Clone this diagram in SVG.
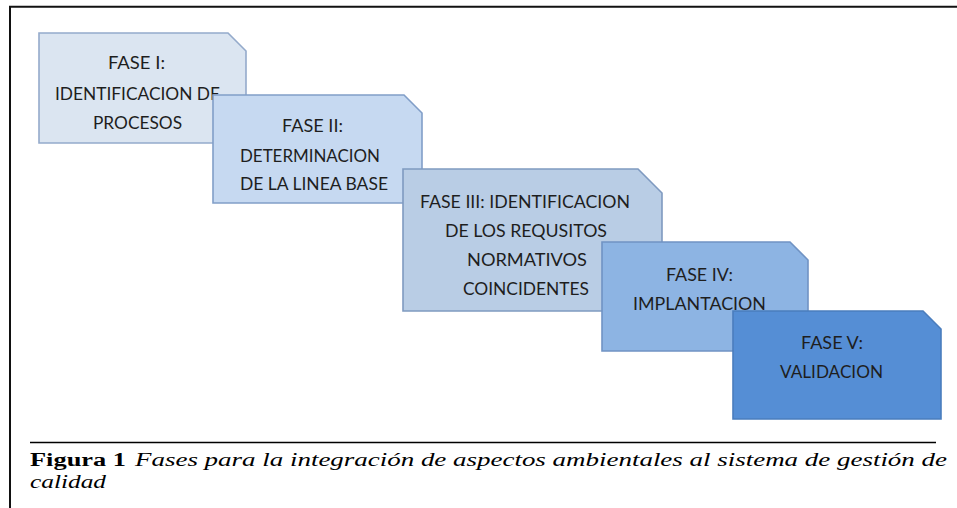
<svg xmlns="http://www.w3.org/2000/svg" width="957" height="508" viewBox="0 0 957 508">
<style>
.box{stroke-width:1.6;stroke-linejoin:miter}
.t{font-family:Lato,"Liberation Sans",sans-serif;font-size:17px;fill:#1e1e1e;text-anchor:middle}
.cap{font-family:"Liberation Serif",Tinos,"Times New Roman","Noto Serif",serif;font-size:18px;fill:#000}
</style>
<rect width="957" height="508" fill="#fff"/>
<g id="frame" stroke="#111" stroke-width="2" fill="none">
<line x1="9" y1="6.8" x2="957" y2="6.8"/>
<line x1="10" y1="6" x2="10" y2="508"/>
</g>
<g id="connectors"/>
<g id="fase1">
<path class="box" d="M39,33 H228 L246,51 V143 H39 Z" fill="#dbe5f1" stroke="#94aacb"/>
<text class="t" x="136.5" y="69" textLength="57" lengthAdjust="spacingAndGlyphs">FASE I:</text>
<text class="t" x="137.5" y="100" textLength="165" lengthAdjust="spacingAndGlyphs">IDENTIFICACION DE</text>
<text class="t" x="137.5" y="129" textLength="89" lengthAdjust="spacingAndGlyphs">PROCESOS</text>
</g>
<g id="fase2">
<path class="box" d="M213,95 H404 L422,113 V203 H213 Z" fill="#c6d9f1" stroke="#819ec8"/>
<text class="t" x="312.5" y="131.5" textLength="61" lengthAdjust="spacingAndGlyphs">FASE II:</text>
<text class="t" x="310" y="161.5" textLength="140" lengthAdjust="spacingAndGlyphs">DETERMINACION</text>
<text class="t" x="314" y="190" textLength="148" lengthAdjust="spacingAndGlyphs">DE LA LINEA BASE</text>
</g>
<g id="fase3">
<path class="box" d="M403,169 H638 L662,193 V311 H403 Z" fill="#b9cde5" stroke="#7f9ac0"/>
<text class="t" x="525" y="208" textLength="210" lengthAdjust="spacingAndGlyphs">FASE III: IDENTIFICACION</text>
<text class="t" x="526" y="237" textLength="162" lengthAdjust="spacingAndGlyphs">DE LOS REQUSITOS</text>
<text class="t" x="527" y="266" textLength="120" lengthAdjust="spacingAndGlyphs">NORMATIVOS</text>
<text class="t" x="526" y="295" textLength="126" lengthAdjust="spacingAndGlyphs">COINCIDENTES</text>
</g>
<g id="fase4">
<path class="box" d="M602,242 H790 L808,260 V351 H602 Z" fill="#8db4e3" stroke="#7093c4"/>
<text class="t" x="699.5" y="281" textLength="67" lengthAdjust="spacingAndGlyphs">FASE IV:</text>
<text class="t" x="699.5" y="310" textLength="133" lengthAdjust="spacingAndGlyphs">IMPLANTACION</text>
</g>
<g id="fase5">
<path class="box" d="M733,311 H923 L941,329 V419 H733 Z" fill="#558ed5" stroke="#4a7dbd"/>
<text class="t" x="832" y="349" textLength="62" lengthAdjust="spacingAndGlyphs">FASE V:</text>
<text class="t" x="831.5" y="378" textLength="103" lengthAdjust="spacingAndGlyphs">VALIDACION</text>
</g>
<g id="caption">
<line x1="30" y1="442.5" x2="936" y2="442.5" stroke="#000" stroke-width="1.3"/>
<text class="cap" x="30" y="466" font-weight="bold" textLength="96" lengthAdjust="spacingAndGlyphs">Figura 1</text>
<text class="cap" x="135" y="466" font-style="italic" textLength="812" lengthAdjust="spacingAndGlyphs">Fases para la integración de aspectos ambientales al sistema de gestión de</text>
<text class="cap" x="30" y="488" font-style="italic" textLength="76" lengthAdjust="spacingAndGlyphs">calidad</text>
</g>
</svg>
